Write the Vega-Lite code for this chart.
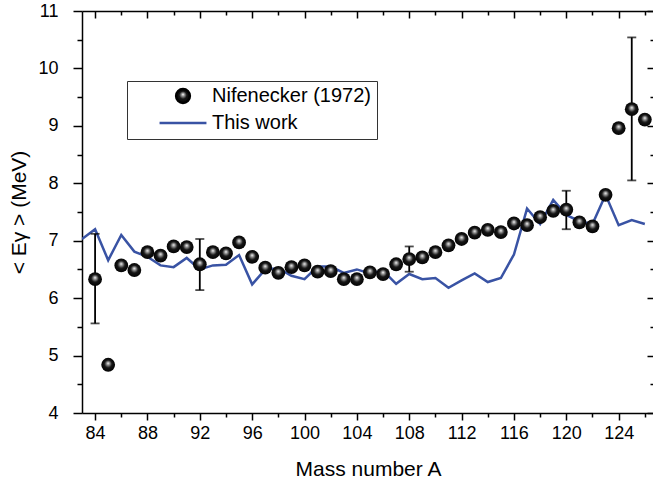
{
  "$schema": "https://vega.github.io/schema/vega-lite/v6.json",
  "width": 572,
  "height": 402,
  "autosize": "none",
  "padding": {"left": 82, "top": 11, "right": 0, "bottom": 71},
  "background": "white",
  "config": {
    "view": {"stroke": null},
    "font": "Liberation Sans",
    "axis": {
      "labelFont": "Liberation Sans",
      "titleFont": "Liberation Sans",
      "labelFontSize": 18,
      "titleFontSize": 21,
      "titleFontWeight": "normal",
      "labelColor": "black",
      "titleColor": "black",
      "domainColor": "black",
      "domainWidth": 1.5,
      "tickColor": "black",
      "tickWidth": 1.5,
      "grid": false
    },
    "legend": {
      "labelFont": "Liberation Sans",
      "labelFontSize": 20,
      "labelColor": "black"
    }
  },
  "datasets": {
    "exp": [
      {"A": 84, "E": 6.33}, {"A": 85, "E": 4.84}, {"A": 86, "E": 6.57}, {"A": 87, "E": 6.49},
      {"A": 88, "E": 6.80}, {"A": 89, "E": 6.74}, {"A": 90, "E": 6.90}, {"A": 91, "E": 6.89},
      {"A": 92, "E": 6.59}, {"A": 93, "E": 6.80}, {"A": 94, "E": 6.78}, {"A": 95, "E": 6.97},
      {"A": 96, "E": 6.72}, {"A": 97, "E": 6.53}, {"A": 98, "E": 6.44}, {"A": 99, "E": 6.54},
      {"A": 100, "E": 6.57}, {"A": 101, "E": 6.46}, {"A": 102, "E": 6.47}, {"A": 103, "E": 6.33},
      {"A": 104, "E": 6.33}, {"A": 105, "E": 6.45}, {"A": 106, "E": 6.42}, {"A": 107, "E": 6.59},
      {"A": 108, "E": 6.68}, {"A": 109, "E": 6.71}, {"A": 110, "E": 6.80}, {"A": 111, "E": 6.92},
      {"A": 112, "E": 7.03}, {"A": 113, "E": 7.14}, {"A": 114, "E": 7.19}, {"A": 115, "E": 7.15},
      {"A": 116, "E": 7.30}, {"A": 117, "E": 7.27}, {"A": 118, "E": 7.41}, {"A": 119, "E": 7.52},
      {"A": 120, "E": 7.54}, {"A": 121, "E": 7.32}, {"A": 122, "E": 7.25}, {"A": 123, "E": 7.80},
      {"A": 124, "E": 8.96}, {"A": 125, "E": 9.29}, {"A": 126, "E": 9.11}
    ],
    "model": [
      {"A": 83, "E": 7.03, "series": "This work"}, {"A": 84, "E": 7.20, "series": "This work"},
      {"A": 85, "E": 6.66, "series": "This work"}, {"A": 86, "E": 7.10, "series": "This work"},
      {"A": 87, "E": 6.81, "series": "This work"}, {"A": 88, "E": 6.72, "series": "This work"},
      {"A": 89, "E": 6.57, "series": "This work"}, {"A": 90, "E": 6.54, "series": "This work"},
      {"A": 91, "E": 6.70, "series": "This work"}, {"A": 92, "E": 6.50, "series": "This work"},
      {"A": 93, "E": 6.57, "series": "This work"}, {"A": 94, "E": 6.58, "series": "This work"},
      {"A": 95, "E": 6.75, "series": "This work"}, {"A": 96, "E": 6.24, "series": "This work"},
      {"A": 97, "E": 6.50, "series": "This work"}, {"A": 98, "E": 6.52, "series": "This work"},
      {"A": 99, "E": 6.39, "series": "This work"}, {"A": 100, "E": 6.33, "series": "This work"},
      {"A": 101, "E": 6.55, "series": "This work"}, {"A": 102, "E": 6.55, "series": "This work"},
      {"A": 103, "E": 6.44, "series": "This work"}, {"A": 104, "E": 6.50, "series": "This work"},
      {"A": 105, "E": 6.43, "series": "This work"}, {"A": 106, "E": 6.48, "series": "This work"},
      {"A": 107, "E": 6.25, "series": "This work"}, {"A": 108, "E": 6.42, "series": "This work"},
      {"A": 109, "E": 6.33, "series": "This work"}, {"A": 110, "E": 6.35, "series": "This work"},
      {"A": 111, "E": 6.18, "series": "This work"}, {"A": 112, "E": 6.31, "series": "This work"},
      {"A": 113, "E": 6.43, "series": "This work"}, {"A": 114, "E": 6.28, "series": "This work"},
      {"A": 115, "E": 6.35, "series": "This work"}, {"A": 116, "E": 6.76, "series": "This work"},
      {"A": 117, "E": 7.56, "series": "This work"}, {"A": 118, "E": 7.29, "series": "This work"},
      {"A": 119, "E": 7.71, "series": "This work"}, {"A": 120, "E": 7.45, "series": "This work"},
      {"A": 121, "E": 7.34, "series": "This work"}, {"A": 122, "E": 7.29, "series": "This work"},
      {"A": 123, "E": 7.80, "series": "This work"}, {"A": 124, "E": 7.27, "series": "This work"},
      {"A": 125, "E": 7.36, "series": "This work"}, {"A": 126, "E": 7.29, "series": "This work"}
    ],
    "err": [
      {"A": 84, "lo": 5.56, "hi": 7.12},
      {"A": 92, "lo": 6.14, "hi": 7.03},
      {"A": 108, "lo": 6.46, "hi": 6.90},
      {"A": 120, "lo": 7.20, "hi": 7.87},
      {"A": 125, "lo": 8.05, "hi": 10.54}
    ]
  },
  "resolve": {"axis": {"x": "independent", "y": "independent"}},
  "layer": [
    {
      "data": {"name": "model"},
      "mark": {"type": "line", "strokeWidth": 2.5, "clip": true},
      "encoding": {
        "x": {"field": "A", "type": "quantitative",
              "scale": {"domain": [83, 126.7], "nice": false, "zero": false},
              "axis": {"orient": "bottom", "values": [84, 88, 92, 96, 100, 104, 108, 112, 116, 120, 124],
                       "tickSize": 7, "labelPadding": 4, "title": "Mass number A", "titlePadding": 16, "labelFlush": false}},
        "y": {"field": "E", "type": "quantitative",
              "scale": {"domain": [4, 11], "nice": false, "zero": false},
              "axis": {"orient": "left", "values": [4, 5, 6, 7, 8, 9, 10, 11],
                       "tickSize": 9, "labelPadding": 15, "title": "< Eγ > (MeV)", "titlePadding": 8, "labelFlush": false}},
        "color": {"field": "series", "type": "nominal",
                  "scale": {"domain": ["Nifenecker (1972)", "This work"], "range": ["#000000", "#3953a4"]},
                  "legend": {
                    "title": null,
                    "orient": "none",
                    "legendX": 45,
                    "legendY": 70,
                    "strokeColor": "#333333",
                    "fillColor": "white",
                    "padding": 6,
                    "symbolSize": 2200,
                    "symbolType": "stroke",
                    "symbolStrokeWidth": 2.5,
                    "symbolOffset": 40,
                    "labelOffset": 19,
                    "clipHeight": 18,
                    "rowPadding": 7,
                    "labelLimit": 400,
                    "encode": {
                      "symbols": {
                        "update": {
                          "shape": {"signal": "datum.value === 'This work' ? 'stroke' : 'circle'"},
                          "size": {"signal": "datum.value === 'This work' ? 2200 : 190"},
                          "fill": {"signal": "datum.value === 'This work' ? 'transparent' : {gradient: 'radial', x1: 0.5, y1: 0.38, r1: 0, x2: 0.5, y2: 0.5, r2: 0.55, stops: [{offset: 0, color: '#ffffff'}, {offset: 0.18, color: '#a0a0a0'}, {offset: 0.5, color: '#151515'}, {offset: 1, color: '#000000'}]}"},
                          "stroke": {"signal": "datum.value === 'This work' ? '#3953a4' : 'transparent'"},
                          "strokeWidth": {"value": 2.5},
                          "opacity": {"value": 1}
                        }
                      }
                    }
                  }}
      }
    },
    {
      "data": {"name": "err"},
      "mark": {"type": "rule", "color": "black", "strokeWidth": 1.8},
      "encoding": {
        "x": {"field": "A", "type": "quantitative",
              "scale": {"domain": [83, 126.7], "nice": false, "zero": false},
              "axis": {"orient": "bottom", "values": [86, 90, 94, 98, 102, 106, 110, 114, 118, 122, 126],
                       "tickSize": 4, "labels": false, "domain": false, "title": null}},
        "y": {"field": "lo", "type": "quantitative",
              "scale": {"domain": [4, 11], "nice": false, "zero": false},
              "axis": {"orient": "left", "values": [4.5, 5.5, 6.5, 7.5, 8.5, 9.5, 10.5],
                       "tickSize": 5, "labels": false, "domain": false, "title": null}},
        "y2": {"field": "hi"}
      }
    },
    {
      "data": {"name": "err"},
      "mark": {"type": "tick", "orient": "horizontal", "color": "black", "size": 9, "thickness": 1.8},
      "encoding": {
        "x": {"field": "A", "type": "quantitative",
              "scale": {"domain": [83, 126.7], "nice": false, "zero": false},
              "axis": {"orient": "top", "values": [84, 88, 92, 96, 100, 104, 108, 112, 116, 120, 124],
                       "tickSize": -7, "labels": false, "title": null}},
        "y": {"field": "lo", "type": "quantitative",
              "scale": {"domain": [4, 11], "nice": false, "zero": false},
              "axis": {"orient": "right", "values": [4, 5, 6, 7, 8, 9, 10, 11],
                       "tickSize": -7, "labels": false, "title": null}}
      }
    },
    {
      "data": {"name": "err"},
      "mark": {"type": "tick", "orient": "horizontal", "color": "black", "size": 9, "thickness": 1.8},
      "encoding": {
        "x": {"field": "A", "type": "quantitative",
              "scale": {"domain": [83, 126.7], "nice": false, "zero": false},
              "axis": {"orient": "top", "values": [86, 90, 94, 98, 102, 106, 110, 114, 118, 122, 126],
                       "tickSize": -4, "labels": false, "domain": false, "title": null}},
        "y": {"field": "hi", "type": "quantitative",
              "scale": {"domain": [4, 11], "nice": false, "zero": false},
              "axis": {"orient": "right", "values": [4.5, 5.5, 6.5, 7.5, 8.5, 9.5, 10.5],
                       "tickSize": -4, "labels": false, "domain": false, "title": null}}
      }
    },
    {
      "data": {"name": "exp"},
      "mark": {"type": "point", "filled": true, "size": 190, "opacity": 1, "strokeWidth": 0,
               "fill": {"gradient": "radial", "x1": 0.5, "y1": 0.38, "r1": 0, "x2": 0.5, "y2": 0.5, "r2": 0.55,
                        "stops": [{"offset": 0, "color": "#ffffff"}, {"offset": 0.18, "color": "#a0a0a0"}, {"offset": 0.5, "color": "#151515"}, {"offset": 1, "color": "#000000"}]}},
      "encoding": {
        "x": {"field": "A", "type": "quantitative",
              "scale": {"domain": [83, 126.7], "nice": false, "zero": false}, "axis": null},
        "y": {"field": "E", "type": "quantitative",
              "scale": {"domain": [4, 11], "nice": false, "zero": false}, "axis": null}
      }
    }
  ]
}
